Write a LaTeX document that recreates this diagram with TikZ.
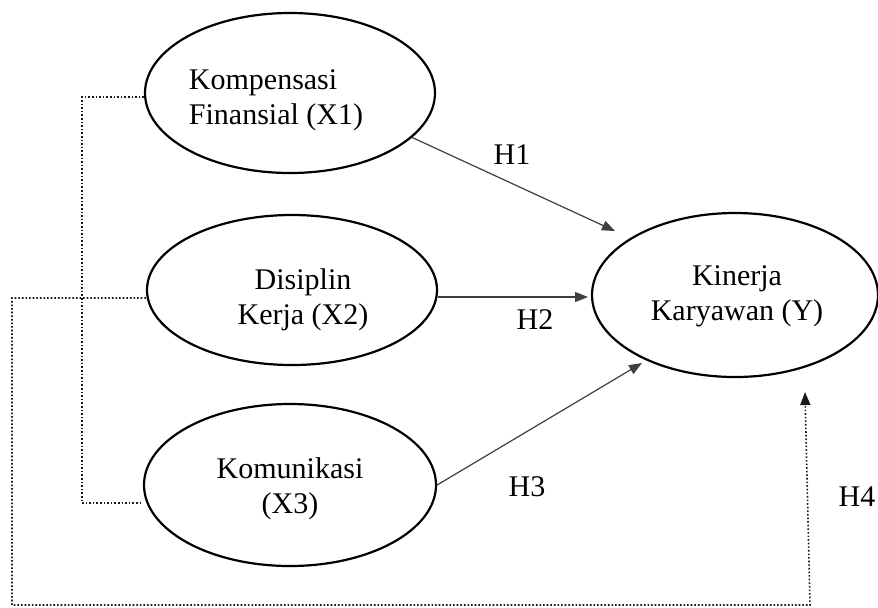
\documentclass[tikz,border=0pt]{standalone}
\usepackage{fontspec}
\setmainfont{Liberation Serif}
\usetikzlibrary{arrows.meta,shapes.geometric}

\begin{document}
\begin{tikzpicture}[
  x=0.5pt, y=-0.5pt,
  font=\fontsize{15}{17.5}\selectfont,
  >={Triangle[length=6.5pt,width=5pt]},
  latent/.style={draw, ellipse, line width=1.1pt, inner sep=0pt},
  txt/.style={align=center, inner sep=0pt},
  hyp/.style={->, line width=0.6pt, draw=black!75, fill=black},
  link/.style={densely dotted, line width=0.8pt, draw=black!90},
  hlbl/.style={inner sep=0pt},
]
\useasboundingbox (0,0) rectangle (878,607);

% ---- exogenous constructs ---------------------------------------------
\node[latent, minimum width=145pt, minimum height=80pt] (x1) at (290,93) {};
\node[txt, align=left] (x1txt) at (276,100) {Kompensasi\\Finansial (X1)};

\node[latent, minimum width=145pt, minimum height=75pt] (x2) at (292,290) {};
\node[txt] (x2txt) at (303,300) {Disiplin\\Kerja (X2)};

\node[latent, minimum width=146pt, minimum height=81pt] (x3) at (290,485) {};
\node[txt] (x3txt) at (290,489) {Komunikasi\\(X3)};

% ---- endogenous construct ---------------------------------------------
\node[latent, minimum width=143pt, minimum height=82pt] (y) at (735,295) {};
\node[txt] (ytxt) at (737,296) {Kinerja\\Karyawan (Y)};

% ---- arrow ends --------------------------------------------------------
\coordinate (h1end) at (615,231);
\coordinate (h2end) at (588,297);
\coordinate (h3end) at (642,363);
\coordinate (h4end) at (805,392);

% ---- partial effects H1--H3 --------------------------------------------
\draw[hyp] (x1.-20) -- (h1end);
\draw[hyp] (x2.east |- h2end) -- (h2end);
\draw[hyp] (x3.east) -- (h3end);

\node[hlbl] (h1) at (512,155) {H1};
\node[hlbl] (h2) at (535,320) {H2};
\node[hlbl] (h3) at (527,487) {H3};
\node[hlbl] (h4) at (857,497) {H4};

% ---- simultaneous effect H4 (dotted) -----------------------------------
\coordinate (brtop) at (82,97);
\coordinate (brbot) at (82,503);
\coordinate (lcorner) at (12,298);
\coordinate (bleft) at (12,605);
\coordinate (bright) at (810,605);

\draw[link] (x1.west |- brtop) -- (brtop) -- (brbot) -- (x3.west |- brbot);
\draw[link, ->] (x2.west |- lcorner) -- (lcorner) -- (bleft) -- (bright) -- (h4end);

\end{tikzpicture}
\end{document}
